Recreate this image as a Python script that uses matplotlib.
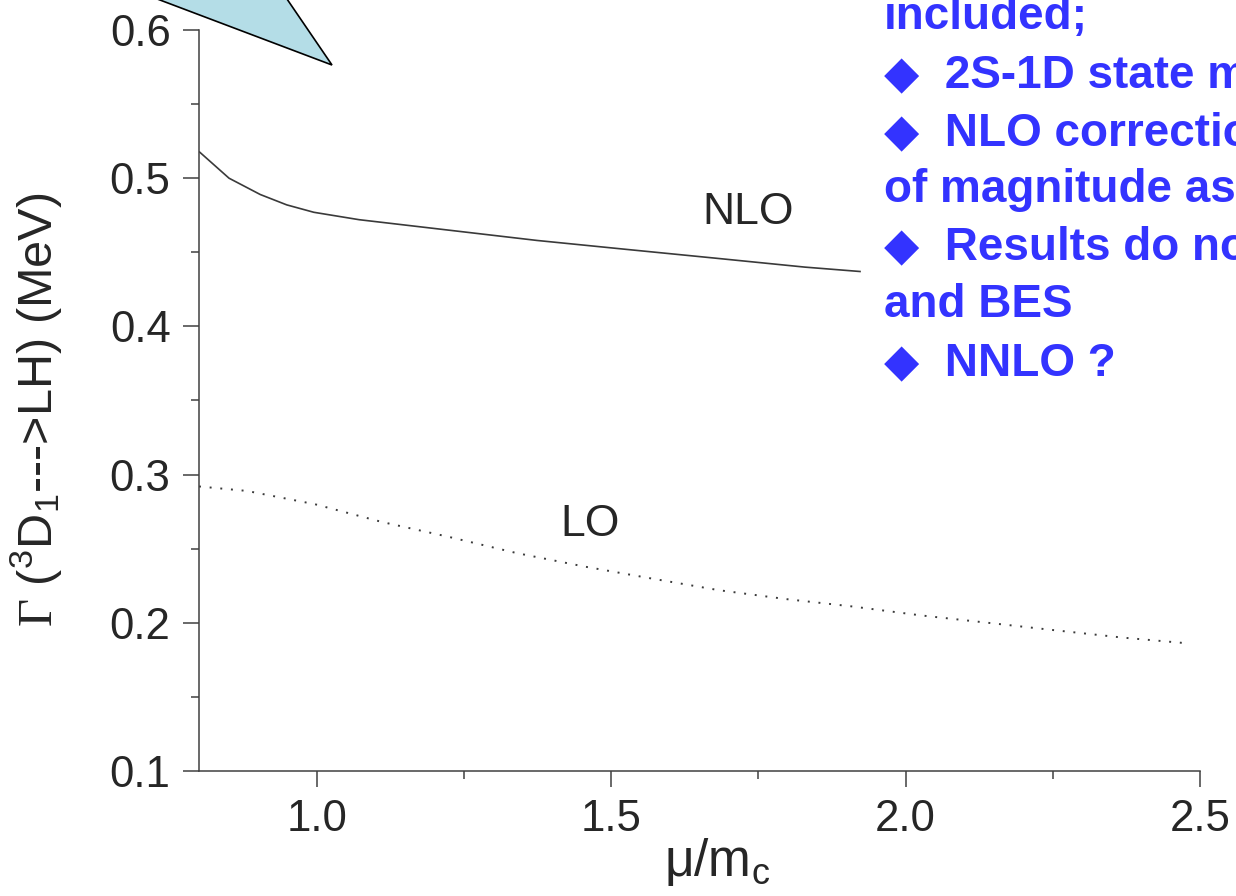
import matplotlib
matplotlib.use("Agg")
import matplotlib.pyplot as plt
from matplotlib.ticker import MultipleLocator, FormatStrFormatter
from matplotlib.patches import Polygon

# ---- data ----
nlo_x = [0.80, 0.851, 0.904, 0.949, 0.995, 1.072, 1.223, 1.374, 1.525, 1.678, 1.829, 1.924]
nlo_y = [0.518, 0.500, 0.489, 0.482, 0.477, 0.472, 0.465, 0.458, 0.452, 0.446, 0.440, 0.437]

lo_x = [0.80, 0.881, 0.997, 1.111, 1.224, 1.340, 1.454, 1.567, 1.683, 1.797, 1.910, 2.026, 2.140, 2.253, 2.369, 2.483]
lo_y = [0.292, 0.289, 0.280, 0.268, 0.258, 0.247, 0.238, 0.230, 0.222, 0.216, 0.211, 0.205, 0.200, 0.195, 0.190, 0.186]

curve_labels = ["NLO", "LO"]
note_lines = [
    "included;",
    "\u25c6  2S-1D state mixing",
    "\u25c6  NLO corrections are",
    "of magnitude as LO",
    "\u25c6  Results do not agree",
    "and BES",
    "\u25c6  NNLO ?",
]

plt.rcParams['font.family'] = ['Liberation Sans', 'DejaVu Sans']
plt.rcParams['mathtext.fontset'] = 'custom'
plt.rcParams['mathtext.rm'] = 'Liberation Sans'
plt.rcParams['mathtext.it'] = 'Liberation Sans:italic'
plt.rcParams['mathtext.bf'] = 'Liberation Sans:bold'
plt.rcParams['mathtext.sf'] = 'Liberation Serif'

W, H = 1236, 896
fig = plt.figure(figsize=(W / 100, H / 100), dpi=100)

def fx(px):
    return px / W

def fy(py):
    return 1 - py / H

ax = fig.add_axes([fx(199), fy(771), fx(1200) - fx(199), fy(30) - fy(771)])

txt_col = '#262626'
ax.plot(nlo_x, nlo_y, color='#3a3a3a', lw=1.2, solid_capstyle='butt')
ax.plot(lo_x, lo_y, color='#3a3a3a', lw=1.4, linestyle=(0, (1, 4.5)))

ax.set_xlim(0.8, 2.5)
ax.set_ylim(0.1, 0.6)
for s in ['top', 'right']:
    ax.spines[s].set_visible(False)
for s in ['left', 'bottom']:
    ax.spines[s].set_color('#404040')
    ax.spines[s].set_linewidth(1.1)

ax.xaxis.set_major_locator(MultipleLocator(0.5))
ax.xaxis.set_minor_locator(MultipleLocator(0.25))
ax.yaxis.set_major_locator(MultipleLocator(0.1))
ax.yaxis.set_minor_locator(MultipleLocator(0.05))
ax.xaxis.set_major_formatter(FormatStrFormatter('%.1f'))
ax.yaxis.set_major_formatter(FormatStrFormatter('%.1f'))

ax.tick_params(which='major', direction='out', length=11.5, width=1.1, color='#404040',
               labelsize=31.5, labelcolor=txt_col, pad=9)
ax.tick_params(which='minor', direction='out', length=6, width=1.1, color='#404040')

ax.text(1.732, 0.477, curve_labels[0], fontsize=32, color=txt_col, ha='center', va='center')
ax.text(1.464, 0.266, curve_labels[1], fontsize=32, color=txt_col, ha='center', va='center')

ax.set_ylabel(r'$\mathsf{\Gamma}$ ($^{3}$D$_{1}$--->LH) (MeV)', fontsize=35, color=txt_col)
ax.yaxis.set_label_coords((64 - 199) / 1001, 0.487)
ax.set_xlabel(r'$\mathrm{\mu}$/m$_\mathrm{c}$', fontsize=37, color=txt_col)
ax.xaxis.set_label_coords((717 - 199) / 1001, (771 - 836) / 741)

# light-blue callout triangle at the top left
tri = Polygon([(fx(107), fy(-20)), (fx(274), fy(-20)), (fx(332), fy(65))],
              closed=True, transform=fig.transFigure, facecolor='#b4dde7',
              edgecolor='black', lw=1.2, clip_on=False)
fig.patches.append(tri)

# blue note text on the right
baselines = [29, 88, 145, 202, 260, 317, 375]
for line, b in zip(note_lines, baselines):
    fig.text(fx(884), fy(b), line, fontsize=33, fontweight='bold', color='#3333ff',
             ha='left', va='baseline', family=['Liberation Sans', 'DejaVu Sans'])

fig.savefig('out.png', dpi=100)
